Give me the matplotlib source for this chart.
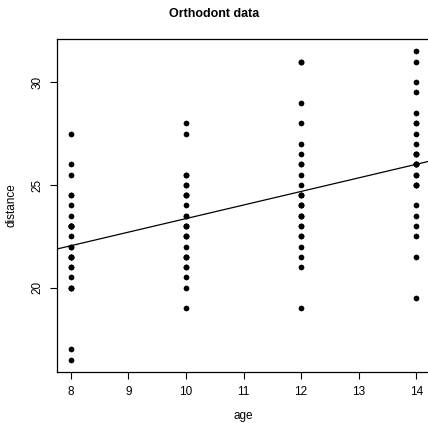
import numpy as np
import matplotlib
matplotlib.use('Agg')
import matplotlib.pyplot as plt

plt.rcParams['font.family'] = ['Liberation Sans', 'DejaVu Sans']

# Orthodont data: distance at ages 8, 10, 12, 14 for each subject
ages = [8, 10, 12, 14]
distance = [
    [26, 25, 29, 31], [21.5, 22.5, 23, 26.5], [23, 22.5, 24, 27.5],
    [25.5, 27.5, 26.5, 27], [20, 23.5, 22.5, 26], [24.5, 25.5, 27, 28.5],
    [22, 22, 24.5, 26.5], [24, 21.5, 24.5, 25.5], [23, 20.5, 31, 26],
    [27.5, 28, 31, 31.5], [23, 23, 23.5, 25], [21.5, 23.5, 24, 28],
    [17, 24.5, 26, 29.5], [22.5, 25.5, 25.5, 26], [23, 24.5, 26, 30],
    [22, 21.5, 23.5, 25],
    [21, 20, 21.5, 23], [21, 21.5, 24, 25.5], [20.5, 24, 24.5, 26],
    [23.5, 24.5, 25, 26.5], [21.5, 23, 22.5, 23.5], [20, 21, 21, 22.5],
    [21.5, 22.5, 23, 25], [23, 23, 23.5, 24], [20, 21, 22, 21.5],
    [16.5, 19, 19, 19.5], [24.5, 25, 28, 28],
]

x = np.tile(ages, len(distance))
y = np.array(distance).ravel()

fig = plt.figure(figsize=(4.28, 4.23), dpi=100)
ax = fig.add_axes([57 / 428, 51 / 423, 373 / 428, 333 / 423])

ax.scatter(x, y, s=17, color='black', zorder=3, linewidths=0)

# least squares line
slope, intercept = np.polyfit(x, y, 1)
ax.axline((0, intercept), slope=slope, color='black', linewidth=0.9)

ax.set_xlim(7.76, 14.24)
ax.set_ylim(15.9, 32.1)
ax.set_xticks(range(8, 15))
ax.set_yticks([20, 25, 30])
ax.set_yticklabels(['20', '25', '30'], rotation=90, va='center')
ax.tick_params(direction='out', length=5, width=0.8, labelsize=8.5, pad=5)

for s in ax.spines.values():
    s.set_linewidth(0.9)

ax.set_xlabel('age', fontsize=8.5, labelpad=9)
ax.set_ylabel('distance', fontsize=8.5, labelpad=10)
fig.text(0.5, 1 - 14 / 423, 'Orthodont data', ha='center', va='center',
         fontsize=9, fontweight='bold')

fig.savefig('out.png', dpi=100)
